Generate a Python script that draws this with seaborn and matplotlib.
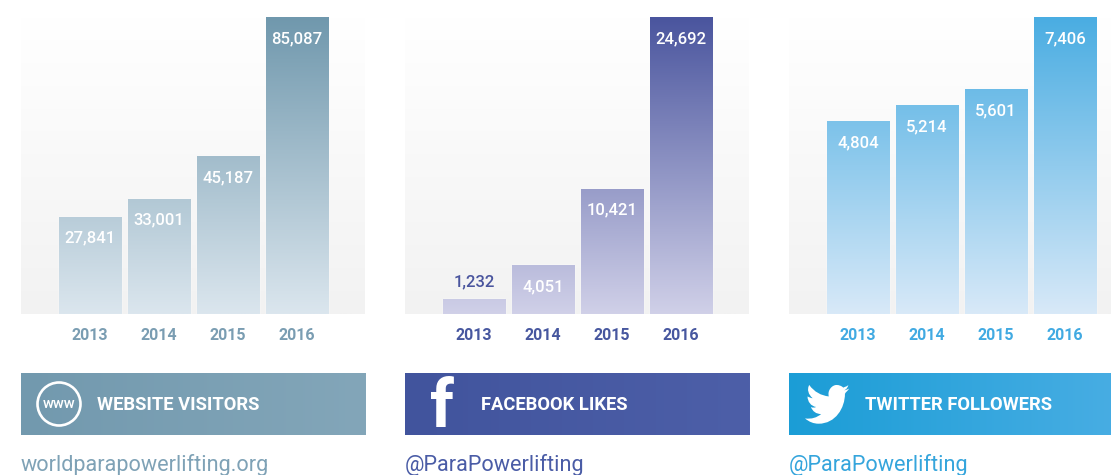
import numpy as np
import matplotlib
matplotlib.use("Agg")
import matplotlib.pyplot as plt
from matplotlib.colors import LinearSegmentedColormap as LSC
from matplotlib.patches import Circle, PathPatch
from matplotlib.path import Path
import seaborn as sns

sns.set_theme(style="white")
plt.rcParams["font.family"] = ["Roboto", "DejaVu Sans"]

years = ["2013", "2014", "2015", "2016"]
website_values = [27841, 33001, 45187, 85087]
facebook_values = [1232, 4051, 10421, 24692]
twitter_values = [4804, 5214, 5601, 7406]
banner_titles = ["WEBSITE VISITORS", "FACEBOOK LIKES", "TWITTER FOLLOWERS"]
handles = ["worldparapowerlifting.org", "@ParaPowerlifting", "@ParaPowerlifting"]

W, H = 1111, 475
fig = plt.figure(figsize=(W / 100, H / 100), dpi=100, facecolor="white")


def rect(x0, y0, x1, y1):
    return [x0 / W, 1 - y1 / H, (x1 - x0) / W, (y1 - y0) / H]


panels = [
    dict(x=21, vals=website_values, top="#7098ad", bot="#dbe6ee", tick="#7a9db2",
         b0="#7299ae", b1="#83a6b9", hc="#7fa2b6"),
    dict(x=405, vals=facebook_values, top="#4a559e", bot="#d0d0e8", tick="#47579f",
         b0="#41549d", b1="#4d5fa8", hc="#4a5ca6"),
    dict(x=789, vals=twitter_values, top="#4aade2", bot="#d8e9f8", tick="#41aae2",
         b0="#1b9dd6", b1="#4aaee4", hc="#35a5dc"),
]

for idx, p in enumerate(panels):
    x0 = p["x"]
    ax = fig.add_axes(rect(x0, 17, x0 + 344, 314))
    sns.barplot(x=years, y=p["vals"], color=p["top"], width=0.9, ax=ax, saturation=1)
    ymax = max(p["vals"])
    xlim = (-1.0, 3.986)
    bg = LSC.from_list("bg", ["#f2f2f2", "#ffffff"])
    ax.imshow(np.linspace(0, 1, 256)[:, None], origin="lower", aspect="auto", cmap=bg,
              extent=[xlim[0], xlim[1], 0, ymax], zorder=0)
    cm = LSC.from_list("bar", [p["bot"], p["top"]])
    for patch in ax.patches:
        bx, bw = patch.get_x(), patch.get_width()
        im = ax.imshow(np.linspace(0, 1, 256)[:, None], origin="lower", aspect="auto", cmap=cm,
                       extent=[bx, bx + bw, 0, ymax], zorder=2)
        im.set_clip_path(patch)
    ax.set_xlim(*xlim)
    ax.set_ylim(0, ymax)
    sns.despine(ax=ax, left=True, bottom=True, top=True, right=True)
    ax.set_yticks([])
    ax.tick_params(axis="x", length=0, pad=10)
    ax.set_xticks(range(4), years, fontsize=11.5, fontweight="bold", color=p["tick"])
    ax.set_xlabel("")
    ax.set_ylabel("")
    for i, v in enumerate(p["vals"]):
        h_px = v / ymax * 297
        if h_px < 30:
            ax.annotate(f"{v:,}", (i, v), xytext=(0, 17 * 0.72), textcoords="offset points",
                        ha="center", va="center", color=p["top"], fontsize=12, fontweight="medium", zorder=5)
        else:
            ax.annotate(f"{v:,}", (i, v), xytext=(0, -21.5 * 0.72), textcoords="offset points",
                        ha="center", va="center", color="white", fontsize=12, fontweight="medium", zorder=5)

    # banner
    bax = fig.add_axes(rect(x0, 373, x0 + 345, 435))
    bax.imshow(np.linspace(0, 1, 256)[None, :], aspect="auto",
               cmap=LSC.from_list("ban", [p["b0"], p["b1"]]), extent=[0, 345, 62, 0], zorder=0)
    bax.set_xlim(0, 345)
    bax.set_ylim(62, 0)
    bax.axis("off")
    bax.text(76, 32, banner_titles[idx], color="white", fontsize=13.2,
             fontweight="bold", ha="left", va="center")
    if idx == 0:
        bax.add_patch(Circle((38, 31), 21.5, fc="none", ec="white", lw=1.9))
        bax.text(38, 31, "www", color="white", fontsize=10.5, fontweight="medium", ha="center", va="center")
    elif idx == 1:
        bax.text(37, 54, "f", color="white", fontsize=48, fontweight="bold", ha="center", va="baseline")
    else:
        verts = [(0, 34), (8, 35), (14, 33), (19, 29), (13, 29), (9, 26), (7, 21), (9, 22), (11, 22), (13, 21),
                 (7, 20), (3, 15), (3, 9), (5, 10), (7, 11), (9, 11), (4, 7), (2, 1), (5, -4), (11, 4), (19, 8), (28, 9),
                 (26, 2), (32, -4), (37, -4), (40, -4), (43, -3), (45, -1), (47, -2), (49, -2), (51, -4),
                 (50, -1), (49, 1), (46, 2), (48, 2), (50, 1), (52, 0), (50, 3), (48, 4), (47, 6),
                 (47, 22), (36, 40), (16, 40), (10, 40), (5, 38), (0, 34)]
        codes = [Path.MOVETO] + [Path.CURVE4] * (len(verts) - 1)
        codes = codes[:1 + 3 * ((len(verts) - 1) // 3)]
        verts = verts[:len(codes)]
        verts = [(vx * 0.85 + 16, vy * 0.88 + 15.5) for vx, vy in verts]
        bax.add_patch(PathPatch(Path(verts, codes), fc="white", ec="none"))

    fig.text(x0 / W, 1 - 471 / H, handles[idx], color=p["hc"], fontsize=15.6, ha="left", va="baseline")

fig.savefig("out.png", dpi=100)
